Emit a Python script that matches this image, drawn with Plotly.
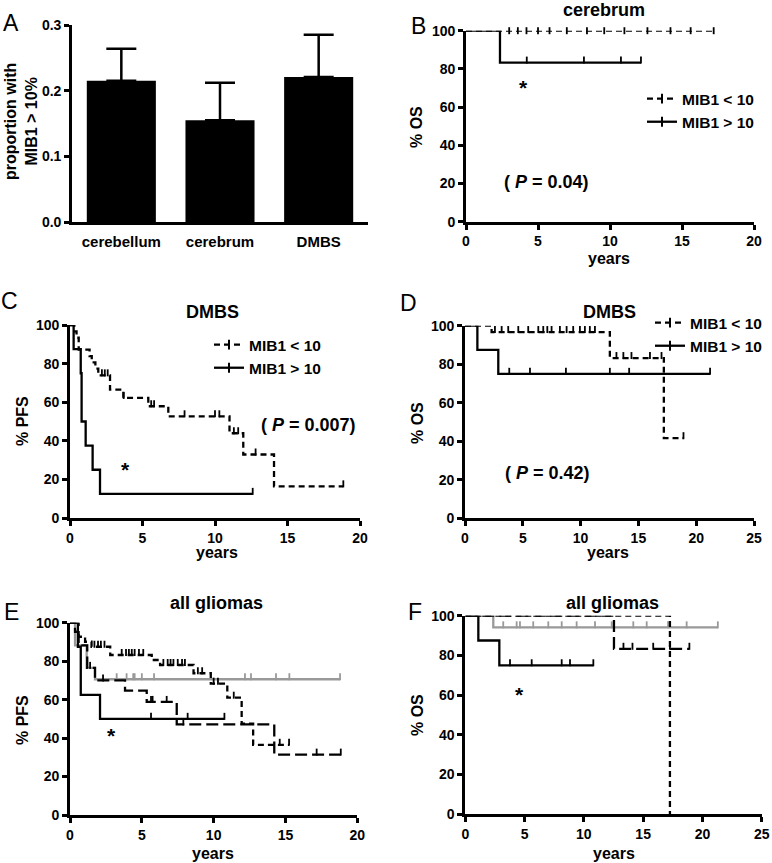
import plotly.graph_objects as go

W, H = 772, 863

# ---------------- data ----------------
# Panel A
categories = ["cerebellum", "cerebrum", "DMBS"]
proportion_mib1 = [0.215, 0.155, 0.221]
proportion_err = [0.049, 0.057, 0.064]

# Panel B  cerebrum OS
b_lo_t = [0]
b_lo_s = [100]
b_lo_end = 17.2
b_lo_cens = [3.0, 3.6, 4.2, 5.0, 5.8, 7.0, 8.4, 9.6, 11.0, 12.6, 14.2, 15.6, 17.2]
b_hi_t = [0, 2.36]
b_hi_s = [100, 83.3]
b_hi_end = 12.15
b_hi_cens = [4.22, 8.19, 10.76, 12.15]

# Panel C  DMBS PFS
c_lo_t = [0, 0.3, 0.45, 0.6, 1.35, 1.5, 1.75, 1.95, 2.76, 3.68, 5.4, 6.78, 11.0, 11.95, 14.07]
c_lo_s = [100, 96.7, 93.4, 87.2, 83.9, 80.6, 77.4, 73.9, 66.5, 62.2, 57.9, 52.7, 43.9, 32.9, 16.4]
c_lo_end = 18.85
c_lo_cens = [2.2, 2.4, 2.6, 3.7, 5.6, 5.8, 7.9, 10.0, 10.3, 11.3, 11.6, 12.8, 18.85]
c_hi_t = [0, 0.25, 0.74, 0.8, 1.08, 1.56, 2.07]
c_hi_s = [100, 87.5, 75, 50, 37.5, 25, 12.5]
c_hi_end = 12.6
c_hi_cens = [12.6]

# Panel D  DMBS OS
d_lo_t = [0, 2.3, 12.53, 17.2]
d_lo_s = [100, 96.7, 83.2, 41.6]
d_lo_end = 18.9
d_lo_cens = [2.59, 3.17, 3.74, 4.61, 5.47, 6.34, 6.77, 7.12, 7.49, 8.21, 8.79, 9.36,
             9.94, 10.37, 10.8, 11.24, 13.1, 13.7, 14.4, 16.0, 17.0, 18.9]
d_hi_t = [0, 1.07, 2.88]
d_hi_s = [100, 87.5, 75]
d_hi_end = 21.2
d_hi_cens = [3.83, 5.62, 8.73, 12.53, 14.2, 21.2]

# Panel E  all gliomas PFS
e_gray_t = [0, 0.35, 1.16, 1.74]
e_gray_s = [100, 88.2, 76.5, 70.6]
e_gray_end = 18.8
e_gray_cens = [3.25, 3.94, 4.4, 4.5, 5.0, 5.85, 12.18, 12.6, 14.34, 15.27, 18.8]
e_solid_t = [0, 0.55, 0.75, 2.09]
e_solid_s = [100, 87.5, 62.5, 50]
e_solid_end = 10.75
e_solid_cens = [5.64, 8.19, 10.75]
e_short_t = [0, 0.35, 0.6, 1.05, 1.5, 2.8, 5.69, 6.27, 8.6, 9.8, 10.95, 11.95, 12.75]
e_short_s = [100, 95.3, 92.7, 90.1, 87.5, 83.2, 80.6, 78.0, 73.7, 68.3, 61.0, 47.5, 36.5]
e_short_end = 15.25
e_short_cens = [1.7, 1.95, 2.15, 2.4, 3.6, 3.9, 4.1, 4.3, 4.5, 4.8, 5.1, 6.5, 6.8, 7.0,
                7.2, 7.5, 7.8, 8.0, 8.9, 9.2, 10.0, 10.3, 11.4, 14.6, 15.25]
e_long_t = [0, 0.6, 1.2, 1.74, 3.83, 5.34, 7.43, 14.22]
e_long_s = [100, 88.2, 76.5, 70.0, 64.7, 58.8, 47.1, 31.4]
e_long_end = 18.85
e_long_cens = [1.4, 2.3, 5.64, 5.75, 6.73, 7.89, 17.17, 18.85]

# Panel F  all gliomas OS
f_gray_t = [0, 2.36]
f_gray_s = [100, 94.1]
f_gray_end = 21.3
f_gray_cens = [3.2, 4.33, 4.61, 5.73, 7.0, 8.13, 9.39, 10.94, 12.35, 14.17, 15.3, 17.1, 18.67, 21.3]
f_solid_t = [0, 1.1, 2.87]
f_solid_s = [100, 87.5, 75]
f_solid_end = 10.8
f_solid_cens = [3.77, 5.6, 8.13, 8.83, 10.8]
f_long_t = [0, 12.54]
f_long_s = [100, 83.3]
f_long_end = 18.9
f_long_cens = [13.34, 14.1, 15.85, 17.26, 18.9]
f_short_t = [0, 17.26]
f_short_s = [100, 0]
f_short_end = 17.26
f_short_cens = []

# ---------------- helpers ----------------
FONT = "Liberation Sans, Arial, sans-serif"
BLACK = "#000000"
GRAY = "#999999"
SHORT = "6px,4px"
LONG = "12px,5px"


def px_x(x):
    return x / W


def px_y(y):
    return 1 - y / H


def axname(i, letter):
    return letter if i == 1 else f"{letter}{i}"


def step_level(times, levels, t):
    lv = levels[0]
    for ti, li in zip(times, levels):
        if ti <= t:
            lv = li
    return lv


fig = go.Figure()


def add_km(ax, times, levels, end, cens, dash, color, width=2.3):
    xs = list(times) + [end]
    ys = list(levels) + [levels[-1]]
    fig.add_trace(go.Scatter(
        x=xs, y=ys, mode="lines",
        line=dict(shape="hv", dash=dash, color=color, width=width),
        xaxis=axname(ax, "x"), yaxis=axname(ax, "y"),
        showlegend=False, cliponaxis=False, hoverinfo="skip"))
    if cens:
        cy = [min(step_level(times, levels, t) + 1.3, 100) for t in cens]
        fig.add_trace(go.Scatter(
            x=cens, y=cy, mode="markers",
            marker=dict(symbol="line-ns", size=5, line=dict(width=1.8, color=color)),
            xaxis=axname(ax, "x"), yaxis=axname(ax, "y"),
            showlegend=False, cliponaxis=False, hoverinfo="skip"))


# ---------------- panel A ----------------
fig.add_trace(go.Bar(
    x=categories, y=proportion_mib1, width=0.7,
    marker=dict(color=BLACK, line=dict(width=0)),
    error_y=dict(type="data", array=proportion_err, arrayminus=[0] * len(proportion_err),
                 symmetric=False, color=BLACK, thickness=2.5, width=15),
    xaxis="x", yaxis="y", showlegend=False, hoverinfo="skip"))

# ---------------- KM panels ----------------
add_km(2, b_lo_t, b_lo_s, b_lo_end, b_lo_cens, SHORT, BLACK)
add_km(2, b_hi_t, b_hi_s, b_hi_end, b_hi_cens, "solid", BLACK)

add_km(3, c_lo_t, c_lo_s, c_lo_end, c_lo_cens, SHORT, BLACK)
add_km(3, c_hi_t, c_hi_s, c_hi_end, c_hi_cens, "solid", BLACK)

add_km(4, d_lo_t, d_lo_s, d_lo_end, d_lo_cens, SHORT, BLACK)
add_km(4, d_hi_t, d_hi_s, d_hi_end, d_hi_cens, "solid", BLACK)

add_km(5, e_gray_t, e_gray_s, e_gray_end, e_gray_cens, "solid", GRAY)
add_km(5, e_short_t, e_short_s, e_short_end, e_short_cens, SHORT, BLACK)
add_km(5, e_long_t, e_long_s, e_long_end, e_long_cens, LONG, BLACK)
add_km(5, e_solid_t, e_solid_s, e_solid_end, e_solid_cens, "solid", BLACK)

add_km(6, f_gray_t, f_gray_s, f_gray_end, f_gray_cens, "solid", GRAY)
add_km(6, f_short_t, f_short_s, f_short_end, f_short_cens, SHORT, BLACK)
add_km(6, f_long_t, f_long_s, f_long_end, f_long_cens, LONG, BLACK)
add_km(6, f_solid_t, f_solid_s, f_solid_end, f_solid_cens, "solid", BLACK)

# legend entries (B, C, D)
for ax, lg in [(2, "legend"), (3, "legend2"), (4, "legend3")]:
    for name, dash in [("MIB1 &lt; 10", SHORT), ("MIB1 &gt; 10", "solid")]:
        fig.add_trace(go.Scatter(
            x=[None], y=[None], mode="lines+markers", name=name,
            line=dict(color=BLACK, dash=dash, width=2.3),
            marker=dict(symbol="line-ns", size=7, line=dict(width=2, color=BLACK)),
            xaxis=axname(ax, "x"), yaxis=axname(ax, "y"), legend=lg))

# ---------------- axes ----------------
boxes = {
    1: (72, 368, 25, 222),
    2: (466, 754, 30.7, 221.7),
    3: (70, 360, 325, 518),
    4: (465, 754, 325.7, 518.3),
    5: (70, 357.3, 622.7, 815),
    6: (465.3, 761.7, 615.7, 814.3),
}
xranges = {2: [0, 20], 3: [0, 20], 4: [0, 25], 5: [0, 20], 6: [0, 25]}

tickfont = dict(family=FONT, size=14, color=BLACK, weight="bold")
common = dict(showline=True, linecolor=BLACK, linewidth=2.7, ticks="outside", ticklen=5,
              tickwidth=2.5, tickcolor=BLACK, showgrid=False, zeroline=False,
              tickfont=tickfont, fixedrange=True)

layout_axes = {}
for i, (x0, x1, y0, y1) in boxes.items():
    xa = dict(common, domain=[px_x(x0), px_x(x1)], anchor=axname(i, "y"))
    ya = dict(common, domain=[px_y(y1), px_y(y0)], anchor=axname(i, "x"))
    if i == 1:
        xa.update(ticks="", ticklabelstandoff=4, tickfont=dict(tickfont, size=15))
        ya.update(range=[0, 0.3], dtick=0.1, tickformat=".1f")
    else:
        xa.update(range=xranges[i], dtick=5)
        ya.update(range=[0, 100], dtick=20)
    key = "xaxis" if i == 1 else f"xaxis{i}"
    layout_axes[key] = xa
    key = "yaxis" if i == 1 else f"yaxis{i}"
    layout_axes[key] = ya

# ---------------- annotations ----------------
ann = []


def text(x, y, s, size, angle=0, weight="bold"):
    ann.append(dict(x=px_x(x), y=px_y(y), xref="paper", yref="paper", text=s,
                    showarrow=False, xanchor="center", yanchor="middle", textangle=angle,
                    font=dict(family=FONT, size=size, color=BLACK, weight=weight)))


# panel letters
for letter, (x, y) in {"A": (11, 23), "B": (418, 26), "C": (9, 301), "D": (408, 303),
                       "E": (11, 612), "F": (415, 612)}.items():
    text(x, y, letter, 23, weight="normal")

# titles
text(604, 10, "cerebrum", 18)
text(213, 312, "DMBS", 18)
text(609, 312, "DMBS", 18)
text(216, 603, "all gliomas", 18)
text(612, 603, "all gliomas", 18)

# axis titles
text(21, 122, "proportion with<br>MIB1 &gt; 10%", 16, angle=-90)
text(417, 127, "% OS", 16, angle=-90)
text(22, 421, "% PFS", 16, angle=-90)
text(417, 423, "% OS", 16, angle=-90)
text(22, 720, "% PFS", 16, angle=-90)
text(417, 715, "% OS", 16, angle=-90)
text(609, 258, "years", 16)
text(217, 552, "years", 16)
text(608, 552, "years", 16)
text(213, 853, "years", 16)
text(614, 853, "years", 16)

# P values
text(546, 182, "( <i>P</i> = 0.04)", 18)
text(308, 425, "( <i>P</i> = 0.007)", 18)
text(547, 473, "( <i>P</i> = 0.42)", 18)

# asterisks
for (x, y) in [(523, 87), (125, 469), (112, 735), (519, 694)]:
    text(x, y, "*", 21)

legend_common = dict(xanchor="left", yanchor="top", bgcolor="rgba(0,0,0,0)", borderwidth=0,
                     font=dict(family=FONT, size=15.5, color=BLACK, weight="bold"),
                     itemwidth=30, tracegroupgap=0, orientation="v")

fig.update_layout(
    width=W, height=H,
    margin=dict(l=0, r=0, t=0, b=0, autoexpand=False),
    paper_bgcolor="white", plot_bgcolor="white",
    font=dict(family=FONT, color=BLACK, weight="bold"),
    showlegend=True,
    legend=dict(legend_common, x=px_x(642), y=px_y(82)),
    legend2=dict(legend_common, x=px_x(209), y=px_y(328)),
    legend3=dict(legend_common, x=px_x(650), y=px_y(306)),
    annotations=ann,
    **layout_axes,
)

fig.write_html("out.html", include_plotlyjs=True, config={"displayModeBar": False},
               post_script="document.body.style.margin='0';")
